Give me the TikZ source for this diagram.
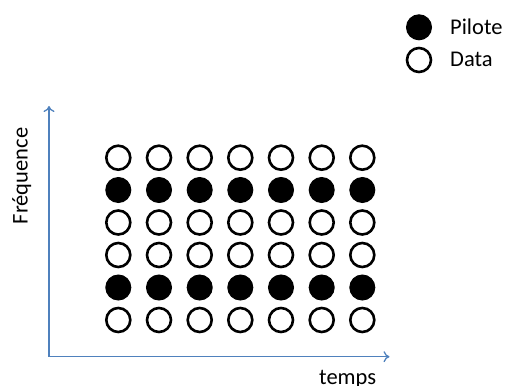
\documentclass[tikz,border=0pt]{standalone}
\usepackage{fontspec}
\setmainfont{Carlito}
\usetikzlibrary{arrows.meta}
\definecolor{axisblue}{HTML}{4F81BD}
\tikzset{
  datadot/.style={circle, draw=black, line width=2.6pt, minimum size=24pt, inner sep=0pt},
  pilotdot/.style={circle, draw=black, fill=black, line width=1pt, minimum size=25pt, inner sep=0pt},
  axisline/.style={draw=axisblue, line width=1.3pt, -{To[length=6pt,width=11pt,line width=1.3pt]}},
  lbl/.style={font=\fontsize{22.5}{27}\selectfont, inner sep=0pt}
}
\begin{document}
\begin{tikzpicture}[x=1pt,y=-1pt]
\useasboundingbox (0,0) rectangle (505,385);
% axes
\coordinate (o) at (49,356.7);
\coordinate (ytip) at (49,106);
\coordinate (xtip) at (389.5,356.7);
\draw[axisline] (o) -- (ytip);
\draw[axisline] (o) -- (xtip);
% grid of symbols
\foreach \c [count=\i] in {118.3,159,199.7,240.3,281,321.7,362.3}{
  \foreach \r/\s [count=\j] in {157.7/datadot,190/pilotdot,222.5/datadot,255/datadot,287.5/pilotdot,320/datadot}{
    \node[\s] (d\i\j) at (\c,\r) {};
  }
}
% legend
\node[pilotdot] (legp) at (419,27.3) {};
\node[datadot] (legd) at (419,60) {};
\node[lbl, anchor=base west] (tp) at (450,35) {Pilote};
\node[lbl, anchor=base west] (td) at (450,66.7) {Data};
% axis labels
\node[lbl, rotate=90, anchor=base] (freq) at (27.7,176) {Fréquence};
\node[lbl, anchor=base west] (temps) at (319,384.5) {temps};
\end{tikzpicture}
\end{document}
